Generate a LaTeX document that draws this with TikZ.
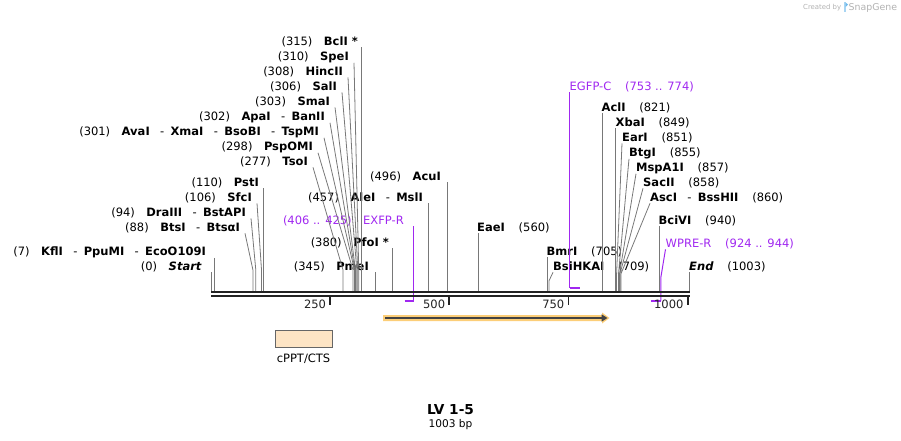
\documentclass[tikz,border=0pt]{standalone}
\usepackage{fontspec}
\setmainfont{DejaVu Sans}
\usetikzlibrary{arrows.meta}

\definecolor{cutgray}{RGB}{120,120,120}
\definecolor{primer}{RGB}{160,40,240}
\definecolor{seqdark}{RGB}{34,34,34}
\definecolor{featglow}{RGB}{252,206,120}
\definecolor{boxfill}{RGB}{253,228,196}
\definecolor{logoblue}{RGB}{110,185,235}

\newcommand{\enz}[1]{\textbf{#1}}
\newcommand{\lgap}{\hspace{1em}}
\newcommand{\rgap}{\hspace{1.2em}}
\newcommand{\alt}{{\mdseries\hspace{0.9em}-\hspace{0.55em}}}

\begin{document}
\begin{tikzpicture}[x=1pt,y=-1pt,
  lbl/.style={inner sep=0pt,font=\fontsize{11.5}{13}\selectfont},
  left lbl/.style={lbl,anchor=east},
  right lbl/.style={lbl,anchor=west},
  primer lbl/.style={text=primer},
  cut/.style={draw=cutgray,line width=0.8pt},
  primer line/.style={draw=primer,line width=1pt},
  primer mark/.style={draw=primer,line width=2pt},
  backbone/.style={draw=seqdark,line width=2.5pt},
  tick/.style={draw=seqdark,line width=1.8pt}]

  \useasboundingbox (0,0) rectangle (901,441);

  % enzyme labels left of their cut lines
  \node[left lbl] (bcl) at (358,42) {(315)\lgap\enz{BclI *}};
  \node[left lbl] (spe) at (349,57) {(310)\lgap\enz{SpeI}};
  \node[left lbl] (hinc) at (343,72) {(308)\lgap\enz{HincII}};
  \node[left lbl] (sal) at (337,87) {(306)\lgap\enz{SalI}};
  \node[left lbl] (sma) at (330,102) {(303)\lgap\enz{SmaI}};
  \node[left lbl] (apa) at (325,117) {(302)\lgap\enz{ApaI\alt BanII}};
  \node[left lbl] (ava) at (319,132) {(301)\lgap\enz{AvaI\alt XmaI\alt BsoBI\alt TspMI}};
  \node[left lbl] (psp) at (313,147) {(298)\lgap\enz{PspOMI}};
  \node[left lbl] (tso) at (308,162) {(277)\lgap\enz{TsoI}};
  \node[left lbl] (pst) at (259,183) {(110)\lgap\enz{PstI}};
  \node[left lbl] (sfc) at (252,198) {(106)\lgap\enz{SfcI}};
  \node[left lbl] (dra) at (246,213) {(94)\lgap\enz{DraIII\alt BstAPI}};
  \node[left lbl] (bts) at (240,228) {(88)\lgap\enz{BtsI\alt BtsαI}};
  \node[left lbl] (kfl) at (206,252) {(7)\lgap\enz{KflI\alt PpuMI\alt EcoO109I}};
  \node[left lbl] (start) at (202,267) {(0)\lgap\enz{\itshape Start}};
  \node[left lbl] (acu) at (441,177) {(496)\lgap\enz{AcuI}};
  \node[left lbl] (ale) at (423,198) {(457)\lgap\enz{AleI\alt MslI}};
  \node[left lbl] (pfo) at (389,243) {(380)\lgap\enz{PfoI *}};
  \node[left lbl] (pme) at (369,267) {(345)\lgap\enz{PmeI}};

  % enzyme labels right of their cut lines
  \node[right lbl] (eae) at (477,228) {\enz{EaeI}\rgap(560)};
  \node[right lbl] (bmr) at (546.5,252) {\enz{BmrI}\rgap(705)};
  \node[right lbl] (bsi) at (553,267) {\enz{BsiHKAI}\rgap(709)};
  \node[right lbl] (acl) at (601.5,108) {\enz{AclI}\rgap(821)};
  \node[right lbl] (xba) at (615.5,123) {\enz{XbaI}\rgap(849)};
  \node[right lbl] (ear) at (622,138) {\enz{EarI}\rgap(851)};
  \node[right lbl] (btg) at (629,153) {\enz{BtgI}\rgap(855)};
  \node[right lbl] (msp) at (636,168) {\enz{MspA1I}\rgap(857)};
  \node[right lbl] (sac) at (643,183) {\enz{SacII}\rgap(858)};
  \node[right lbl] (asc) at (650,198) {\enz{AscI\alt BssHII}\rgap(860)};
  \node[right lbl] (bci) at (658.5,221) {\enz{BciVI}\rgap(940)};
  \node[right lbl] (stop) at (689,267) {\enz{\itshape End}\rgap(1003)};

  % primers
  \node[left lbl,primer lbl] (exfp) at (404,221) {(406 .. 425)\lgap EXFP-R};
  \node[right lbl,primer lbl] (wpre) at (665.5,244) {WPRE-R\rgap(924 .. 944)};
  \node[right lbl,primer lbl] (egfp) at (569.5,87) {EGFP-C\rgap(753 .. 774)};

  % cut sites on the sequence (1003 bp from x=211 to x=689)
  \foreach \n/\p in {start/0,kfl/7,bts/88,dra/94,sfc/106,pst/110,tso/277,psp/298,
      ava/301,apa/302,sma/303,sal/306,hinc/308,spe/310,bcl/315,pme/345,pfo/380,
      ale/457,acu/496,eae/560,bmr/705,bsi/709,acl/821,xba/849,ear/851,btg/855,
      msp/857,sac/858,asc/860,bci/940,stop/1003}
    \coordinate (c-\n) at ({211+0.4766*\p},291);

  \foreach \n in {start,kfl,pst,bcl,pme,pfo,ale,acu,eae,bmr,acl,xba,bci,stop}
    \draw[cut] (c-\n |- \n.south) -- (c-\n);
  \foreach \n in {spe,hinc,sal,sma,apa,ava,psp,tso,sfc,dra,bts}
    \draw[cut] ([xshift=5pt]\n.south east) -- (c-\n |- 0,270) -- (c-\n);
  \foreach \n/\k in {ear/274,btg/274,msp/274,sac/274,asc/274,bsi/281}
    \draw[cut] (\n.south west) -- (c-\n |- 0,\k) -- (c-\n);

  % primer arrows
  \coordinate (exfp-a) at ({211+0.4766*406},301);
  \coordinate (exfp-b) at ({211+0.4766*425},301);
  \coordinate (egfp-a) at ({211+0.4766*753},288);
  \coordinate (egfp-b) at ({211+0.4766*774},288);
  \coordinate (wpre-a) at ({211+0.4766*924},300.5);
  \coordinate (wpre-b) at ({211+0.4766*944},300.5);
  \draw[primer line] (exfp-b |- exfp.south) -- (exfp-b);
  \draw[primer mark] (exfp-a) -- (exfp-b);
  \draw[primer line] (egfp-a |- egfp.south) -- (egfp-a);
  \draw[primer mark] (egfp-a) -- (egfp-b);
  \draw[primer line] (wpre.south west) -- (wpre-b |- 0,277) -- (wpre-b);
  \draw[primer mark] (wpre-a) -- (wpre-b);

  % sequence and ruler
  \draw[backbone] (211,292.2) -- (689.5,292.2);
  \draw[backbone] (211,296) -- (689.5,296);
  \foreach \t in {250,500,750,1000} {
    \draw[tick] ({211+0.4766*\t},297) -- ++(0,7.5);
    \node[lbl,anchor=east,text=seqdark] (t-\t) at ({207+0.4766*\t},304) {\t};
  }

  % feature arrow
  \fill[featglow] (383,315) -- (602,315) -- (602,312.5) -- (609.5,318)
    -- (602,323.5) -- (602,321) -- (383,321) -- cycle;
  \draw[seqdark!85,line width=1.5pt,-{Triangle[length=6pt,width=7pt]}] (385,318) -- (607.5,318);

  % cPPT/CTS
  \node[draw=black!60,fill=boxfill,line width=0.9pt,minimum width=57pt,
    minimum height=17pt,inner sep=0pt] (cppt) at (303.5,338.5) {};
  \node[lbl] (cppt-lbl) at (303.5,359) {cPPT/CTS};

  % title
  \node[inner sep=0pt,font=\bfseries\fontsize{13.7}{15}\selectfont] (title) at (450.5,410) {LV 1-5};
  \node[lbl,font=\fontsize{10.6}{12}\selectfont] (size) at (450.5,425) {1003 bp};

  % watermark
  \node[inner sep=0pt,anchor=west,text=black!30,font=\fontsize{6.9}{8}\selectfont] (made) at (803,7.5) {Created by};
  \fill[logoblue!60] (843.5,2.5) rectangle (845.5,12);
  \fill[logoblue] (845.5,2.5) -- (848,4.5) -- (845.5,7) -- cycle;
  \node[inner sep=0pt,anchor=west,text=black!30,font=\fontsize{9.4}{10}\selectfont] (snap) at (848.5,7.5) {SnapGene};
\end{tikzpicture}
\end{document}
